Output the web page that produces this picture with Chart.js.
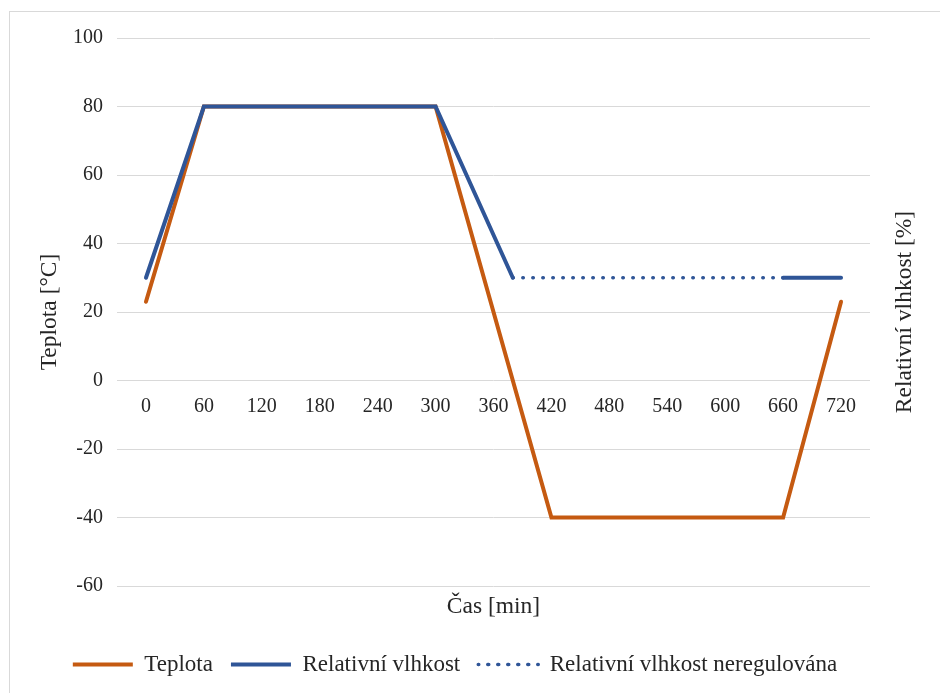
<!DOCTYPE html>
<html>
<head>
<meta charset="utf-8">
<script src="https://cdn.jsdelivr.net/npm/chart.js@4/dist/chart.umd.min.js"></script>
<style>
  html, body { margin: 0; padding: 0; background: #ffffff; }
  #wrap { position: absolute; left: 9px; top: 11px; width: 930px; height: 681px; border: 1px solid #d9d9d9; border-right: none; border-bottom: none; }
  canvas { display: block; }
</style>
</head>
<body>
<div id="wrap"><canvas id="c" width="930" height="681"></canvas></div>
<script>
// Data (time in minutes)
const time = [0, 60, 300, 380, 420, 660, 720];
const teplota = [23, 80, 80, null, -40, -40, 23];
const vlhkost = [30, 80, 80, 30, null, 30, 30];
const vlhkostNereg = [null, null, null, 30, 30, 30, null];
const xTicks = [0, 60, 120, 180, 240, 300, 360, 420, 480, 540, 600, 660, 720];
const yTicks = [-60, -40, -20, 0, 20, 40, 60, 80, 100];

const seriesNames = ['Teplota', 'Relativní vlhkost', 'Relativní vlhkost neregulována'];
const xTitle = 'Čas [min]';
const yTitle = 'Teplota [°C]';
const y2Title = 'Relativní vlhkost [%]';

const orange = '#C55A11';
const blue = '#2F5597';
const FONT = "'Liberation Serif', 'Times New Roman', serif";
const txt = '#262626';

const pts = arr => time.map((t, i) => ({x: t, y: arr[i]}));

// right-hand axis title, read bottom-to-top like the left one
const rightTitle = {
  id: 'rightTitle',
  afterDraw(chart) {
    const {ctx, chartArea} = chart;
    ctx.save();
    ctx.translate(chart.width - 35, (chartArea.top + chartArea.bottom) / 2);
    ctx.rotate(-Math.PI / 2);
    ctx.font = "23.5px " + FONT;
    ctx.fillStyle = txt;
    ctx.textAlign = 'center';
    ctx.textBaseline = 'middle';
    ctx.fillText(y2Title, 0, 0);
    ctx.restore();
  }
};

new Chart(document.getElementById('c'), {
  type: 'line',
  data: {
    datasets: [
      { label: seriesNames[0], data: pts(teplota), borderColor: orange, backgroundColor: orange, order: 3,
        borderWidth: 4, pointRadius: 0, spanGaps: true, borderCapStyle: 'round', borderJoinStyle: 'miter' },
      { label: seriesNames[1], data: pts(vlhkost), borderColor: blue, backgroundColor: blue, order: 1,
        borderWidth: 4, pointRadius: 0, spanGaps: false, borderCapStyle: 'round', borderJoinStyle: 'miter' },
      { label: seriesNames[2], data: pts(vlhkostNereg), borderColor: blue, backgroundColor: blue, order: 2,
        borderWidth: 3.5, borderDash: [0.5, 9.5], borderCapStyle: 'round', pointRadius: 0, spanGaps: true }
    ]
  },
  options: {
    responsive: false,
    animation: false,
    layout: { padding: { left: 10, right: 50, top: 24, bottom: 7 } },
    plugins: {
      tooltip: { enabled: false },
      legend: {
        position: 'bottom',
        labels: {
          usePointStyle: false,
          boxWidth: 60,
          boxHeight: 0,
          padding: 18,
          color: txt,
          font: { family: FONT, size: 23 },
          sort: (a, b) => a.datasetIndex - b.datasetIndex
        }
      }
    },
    scales: {
      x: {
        type: 'linear',
        position: { y: 0 },
        min: -30,
        max: 750,
        afterBuildTicks: s => { s.ticks = xTicks.map(v => ({ value: v })); },
        afterFit: s => { s.paddingLeft = 0; s.paddingRight = 0; s.paddingTop = 0; s.paddingBottom = 0; },
        grid: { display: false, drawTicks: false },
        border: { display: false },
        ticks: { color: txt, font: { family: FONT, size: 20 }, padding: 14, maxRotation: 0, autoSkip: false }
      },
      x2: {
        type: 'linear',
        position: 'bottom',
        min: -30,
        max: 750,
        grid: { display: false, drawTicks: false },
        border: { display: false },
        ticks: { display: false },
        afterFit: s => { s.height = 49; },
        title: { display: true, text: xTitle, color: txt, font: { family: FONT, size: 23.5 }, padding: { top: 7, bottom: 14 } }
      },
      y: {
        type: 'linear',
        position: 'left',
        min: -60,
        max: 100,
        afterBuildTicks: s => { s.ticks = yTicks.map(v => ({ value: v })); },
        afterFit: s => { s.width = 97; },
        grid: { color: '#d9d9d9', drawTicks: false, lineWidth: 1 },
        border: { display: false },
        ticks: { color: txt, font: { family: FONT, size: 20 }, padding: 14 },
        title: { display: true, text: yTitle, color: txt, font: { family: FONT, size: 23.5 }, padding: { top: 16, bottom: 9 } }
      },
      y2: {
        type: 'linear',
        position: 'right',
        min: -60,
        max: 100,
        grid: { display: false, drawTicks: false },
        border: { display: false },
        ticks: { display: false },
        afterFit: s => { s.width = 20; }
      }
    }
  },
  plugins: [rightTitle]
});
</script>
</body>
</html>
